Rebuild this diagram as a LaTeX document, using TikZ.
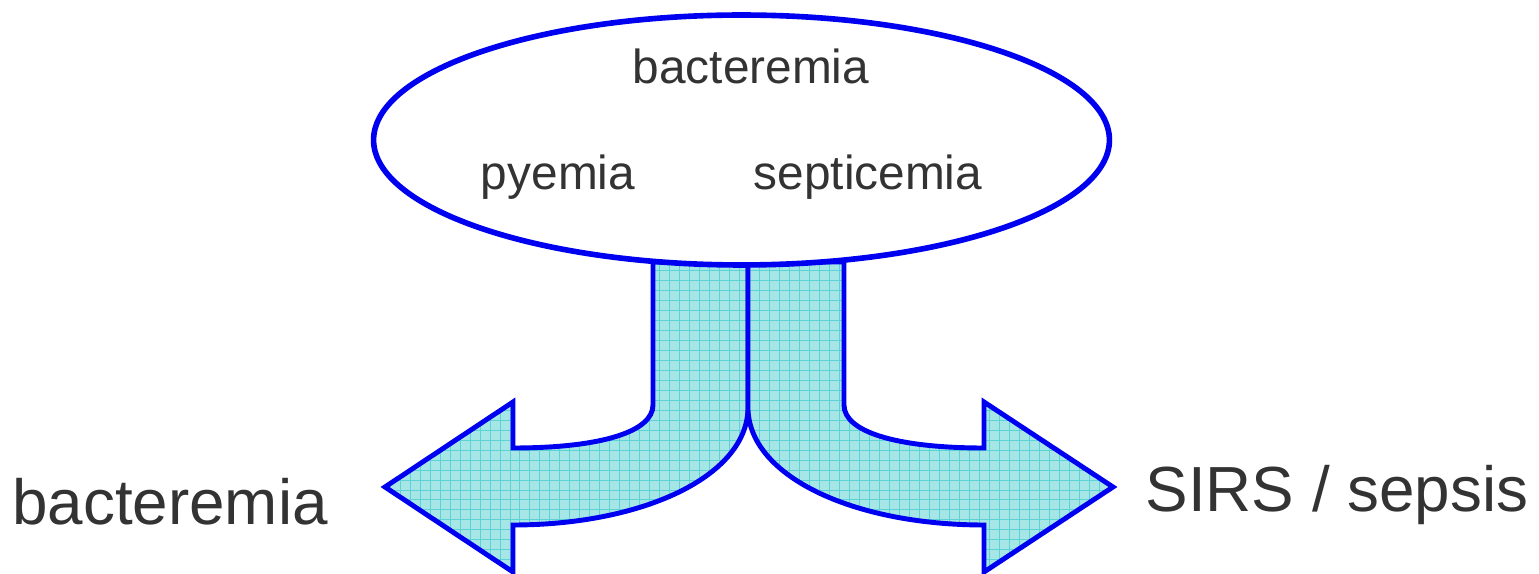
\documentclass[tikz,border=0pt]{standalone}
\usepackage{fontspec}
\setmainfont{Liberation Sans}
\usetikzlibrary{shapes.geometric}
\definecolor{arrblue}{RGB}{0,0,240}
\definecolor{fillcyan}{RGB}{166,230,230}
\definecolor{gridcyan}{RGB}{92,210,212}
\definecolor{txtgray}{RGB}{51,51,51}
\tikzset{
  arrline/.style={draw=arrblue, line width=2.8pt, line join=miter},
  smalltxt/.style={text=txtgray, font=\fontsize{27.2}{30}\selectfont, anchor=base, inner sep=0pt},
  bigtxt/.style={text=txtgray, font=\fontsize{36.3}{40}\selectfont, anchor=base, inner sep=0pt},
  gridlines/.style={draw=gridcyan, line width=0.45pt}
}
\begin{document}
\begin{tikzpicture}[x=0.02cm,y=-0.02cm]
\useasboundingbox (0,0) rectangle (1539,574);
% left arrow
\begin{scope}
\clip (748,262) -- (748,410) .. controls (745,478) and (640,525) .. (513,525) -- (513,572) -- (385,487) -- (513,402) -- (513,448) .. controls (600,448) and (653,432) .. (653,405) -- (653,262) -- cycle;
\fill[fillcyan] (370,250) rectangle (760,580);
\draw[gridlines] (370,250) grid[step=0.2cm] (760,580);
\end{scope}
\path[arrline] (748,262) -- (748,410) .. controls (745,478) and (640,525) .. (513,525) -- (513,572) -- (385,487) -- (513,402) -- (513,448) .. controls (600,448) and (653,432) .. (653,405) -- (653,262) -- cycle;
% right arrow
\begin{scope}
\clip (748,262) -- (748,410) .. controls (751,478) and (856,525) .. (984,525) -- (984,572) -- (1113,487) -- (984,402) -- (984,448) .. controls (897,448) and (844,432) .. (844,405) -- (844,262) -- cycle;
\fill[fillcyan] (740,250) rectangle (1130,580);
\draw[gridlines] (740,250) grid[step=0.2cm] (1130,580);
\end{scope}
\path[arrline] (748,262) -- (748,410) .. controls (751,478) and (856,525) .. (984,525) -- (984,572) -- (1113,487) -- (984,402) -- (984,448) .. controls (897,448) and (844,432) .. (844,405) -- (844,262) -- cycle;
% ellipse
\node[ellipse, draw=arrblue, line width=3.2pt, fill=white, minimum width=14.72cm, minimum height=5.0cm, inner sep=0pt] (ell) at (741.5,140) {};
% texts
\node[smalltxt] (top) at (751,84) {bacteremia};
\node[smalltxt] (pye) at (558,190) {pyemia};
\node[smalltxt] (sep) at (868,190) {septicemia};
\node[bigtxt] (bac) at (170,524) {bacteremia};
\node[bigtxt] (sirs) at (1337,511) {SIRS / sepsis};
\end{tikzpicture}
\end{document}
